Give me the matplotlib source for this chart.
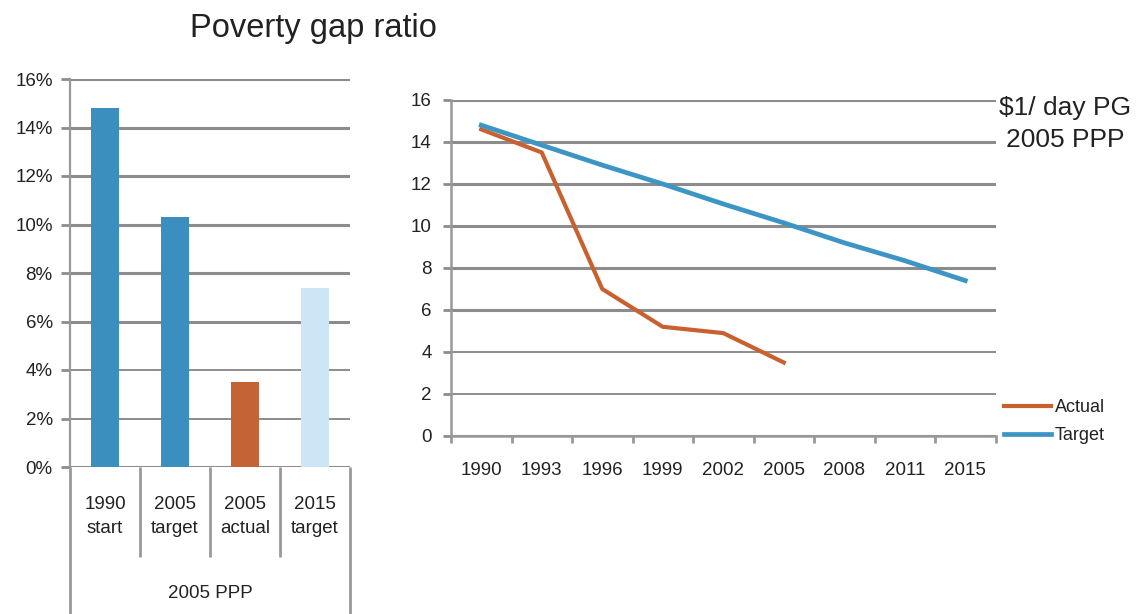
import numpy as np
import matplotlib
matplotlib.use("Agg")
import matplotlib.pyplot as plt
from matplotlib.ticker import PercentFormatter, FixedLocator

plt.rcParams['font.family'] = ['Liberation Sans', 'DejaVu Sans']

# left panel: poverty gap ratio bars (in %)
bar_labels = ['1990\nstart', '2005\ntarget', '2005\nactual', '2015\ntarget']
bar_values = [14.8, 10.3, 3.5, 7.4]
bar_colors = ['#3a8fbf', '#3a8fbf', '#c46434', '#cce6f6']
group_label = '2005 PPP'

# right panel: $1/day poverty gap
years = ['1990', '1993', '1996', '1999', '2002', '2005', '2008', '2011', '2015']
actual = [14.6, 13.5, 7.0, 5.2, 4.9, 3.5]
target = [14.8, 13.85, 12.9, 12.0, 11.05, 10.15, 9.2, 8.35, 7.4]

grid_c = '#8c8c8c'
txt_c = '#222222'

fig = plt.figure(figsize=(11.4, 6.14), dpi=100)
W, H = 1140, 614

# ---------- left bar chart ----------
ax1 = fig.add_axes([70 / W, 1 - 467 / H, 280 / W, 388 / H])
x1 = np.arange(len(bar_values))
ax1.bar(x1, bar_values, width=0.41, color=bar_colors, zorder=3)
ax1.set_xlim(-0.5, len(bar_values) - 0.5)
ax1.set_ylim(0, 16)
ax1.set_yticks(np.arange(0, 17, 2))
ax1.yaxis.set_major_formatter(PercentFormatter(decimals=0))
ax1.set_xticks([])
for s in ['top', 'right', 'bottom']:
    ax1.spines[s].set_visible(False)
ax1.spines['left'].set_color('#999999')
ax1.spines['left'].set_linewidth(1.6)
ax1.tick_params(axis='y', direction='out', length=6.5, width=2, color=grid_c,
                pad=6, labelsize=13.5, labelcolor=txt_c)
ax1.yaxis.grid(True, color=grid_c, zorder=0)
for i, gl in enumerate(ax1.get_ygridlines()):
    gl.set_linewidth(1.4 if i in (1, 2) else 2.2)

# category dividers below the axis
tr = ax1.get_xaxis_transform()
for b in np.arange(-0.5, len(bar_values), 1.0):
    bottom = -0.379 if b in (-0.5, len(bar_values) - 0.5) else -0.232
    ax1.plot([b, b], [0, bottom], transform=tr, color='#999999', lw=2,
             clip_on=False, solid_capstyle='butt')
for i, lab in enumerate(bar_labels):
    ax1.text(i, -0.127, lab, transform=tr, ha='center', va='center',
             fontsize=13.5, linespacing=1.55, color=txt_c)
ax1.text((len(bar_values) - 1) / 2, -0.325, group_label, transform=tr,
         ha='center', va='center', fontsize=13.5, color=txt_c)

fig.text(313 / W, 1 - 29 / H, 'Poverty gap ratio', ha='center', va='center',
         fontsize=23.5, color=txt_c)

# ---------- right line chart ----------
ax2 = fig.add_axes([451 / W, 1 - 436 / H, 544.5 / W, 336 / H])
xi = np.arange(len(years))
ax2.plot(xi[:len(actual)], actual, color='#c8612f', lw=3.0, label='Actual', zorder=3)
ax2.plot(xi, target, color='#3d95c6', lw=3.4, label='Target', zorder=4)
ax2.set_xlim(-0.5, len(years) - 0.5)
ax2.set_ylim(0, 16)
ax2.set_yticks(np.arange(0, 17, 2))
ax2.yaxis.grid(True, color=grid_c, zorder=0)
for i, gl in enumerate(ax2.get_ygridlines()):
    gl.set_linewidth(1.4 if i in (1, 2) else 2.2)
ax2.xaxis.set_major_locator(FixedLocator(np.arange(-0.5, len(years), 1.0)))
ax2.xaxis.set_major_formatter(plt.NullFormatter())
ax2.set_xticks(xi, minor=True)
ax2.set_xticklabels(years, minor=True)
ax2.tick_params(axis='x', which='major', direction='out', length=5, width=2,
                color='#999999')
ax2.tick_params(axis='x', which='minor', length=0, pad=19, labelsize=13.5,
                labelcolor=txt_c)
ax2.tick_params(axis='y', direction='out', length=6, width=2, color=grid_c,
                pad=8, labelsize=13.5, labelcolor=txt_c)
for s in ['top', 'right']:
    ax2.spines[s].set_visible(False)
for s in ['left', 'bottom']:
    ax2.spines[s].set_color('#999999')
    ax2.spines[s].set_linewidth(1.8)

ax2.legend(loc='upper left', bbox_to_anchor=(1004 / W, 1 - 399 / H),
           bbox_transform=fig.transFigure, frameon=False, fontsize=13,
           handlelength=2.6, handletextpad=0.2, labelspacing=0.62,
           borderpad=0, borderaxespad=0, labelcolor=txt_c)

fig.text(1065 / W, 1 - 124 / H, '$1/ day PG\n2005 PPP', ha='center',
         va='center', fontsize=19, linespacing=1.45, color=txt_c)

fig.savefig('out.png', dpi=100)
